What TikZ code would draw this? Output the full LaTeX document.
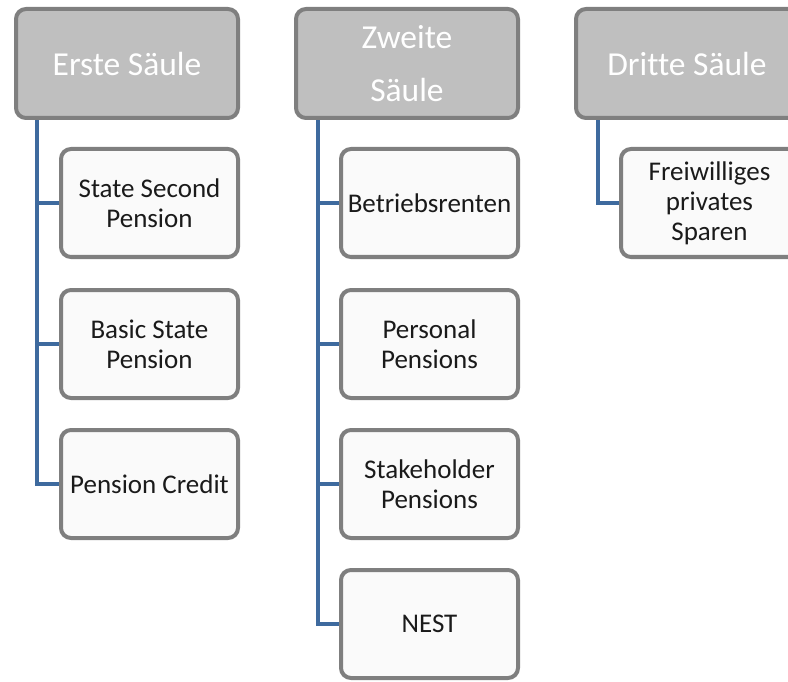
\documentclass[tikz,border=0pt]{standalone}
\usepackage{fontspec}
\setmainfont{Carlito}[Ligatures=CommonOff]
\usetikzlibrary{backgrounds}
\definecolor{hdrfill}{HTML}{BFBFBF}
\definecolor{boxdraw}{HTML}{7F7F7F}
\definecolor{linkblue}{HTML}{3E6A9E}
\definecolor{txt}{HTML}{1A1A1A}
\tikzset{
  hdr/.style={draw=boxdraw, fill=hdrfill, line width=4pt, rounded corners=10pt,
    minimum width=222pt, minimum height=109pt, inner sep=0pt, align=center,
    text=white, font=\fontsize{33.5}{53}\selectfont},
  item/.style={draw=boxdraw, fill=white!98!black, line width=4pt, rounded corners=10pt,
    minimum width=177pt, minimum height=108pt, inner sep=0pt, align=center,
    text=txt, font=\fontsize{27}{30}\selectfont},
  conn/.style={draw=linkblue, line width=4pt, line join=miter}
}
\begin{document}
\begin{tikzpicture}[x=1pt,y=-1pt]
\path[use as bounding box, clip] (0,0) rectangle (788,682);
% headers
\node[hdr] (h1) at (127,63.5) {Erste Säule};
\node[hdr] (h2) at (407,63.5) {Zweite\\Säule};
\node[hdr] (h3) at (687,63.5) {Dritte Säule};
% column 1
\node[item] (c11) at (149.5,203) {State Second\\Pension};
\node[item] (c12) at (149.5,344) {Basic State\\Pension};
\node[item] (c13) at (149.5,484) {Pension Credit};
% column 2
\node[item] (c21) at (429.5,203) {Betriebsrenten};
\node[item] (c22) at (429.5,344) {Personal\\Pensions};
\node[item] (c23) at (429.5,484) {Stakeholder\\Pensions};
\node[item] (c24) at (429.5,624) {NEST};
% column 3
\node[item] (c31) at (709.5,203) {Freiwilliges\\privates\\Sparen};
% connectors
\begin{scope}[on background layer]
\coordinate (t1) at ([xshift=23pt]h1.south west);
\coordinate (t2) at ([xshift=24pt]h2.south west);
\coordinate (t3) at ([xshift=24pt]h3.south west);
\draw[conn] (t1) |- (c13.west);
\draw[conn] (t1) |- (c12.west);
\draw[conn] (t1) |- (c11.west);
\draw[conn] (t2) |- (c24.west);
\draw[conn] (t2) |- (c23.west);
\draw[conn] (t2) |- (c22.west);
\draw[conn] (t2) |- (c21.west);
\draw[conn] (t3) |- (c31.west);
\end{scope}
\end{tikzpicture}
\end{document}
